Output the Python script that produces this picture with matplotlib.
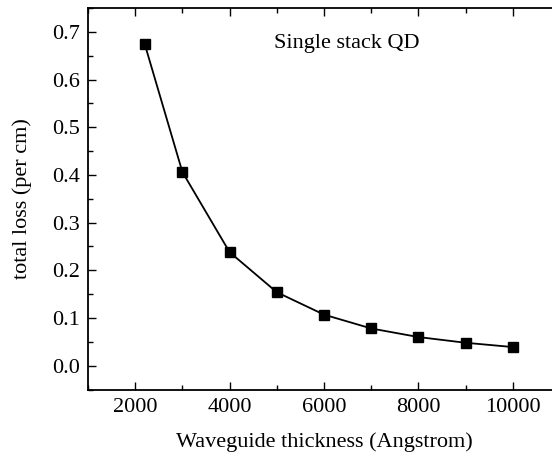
import matplotlib
matplotlib.use("Agg")
import matplotlib.pyplot as plt
from matplotlib.ticker import MultipleLocator

# data
thickness = [2200, 3000, 4000, 5000, 6000, 7000, 8000, 9000, 10000]
total_loss = [0.675, 0.406, 0.238, 0.154, 0.107, 0.078, 0.060, 0.048, 0.039]

plt.rcParams['font.family'] = ['Liberation Serif', 'DejaVu Serif']
plt.rcParams['mathtext.fontset'] = 'stix'

fig = plt.figure(figsize=(5.52, 4.59), dpi=100)
ax = fig.add_axes([88 / 552, (459 - 389.5) / 459, (560 - 88) / 552, (389.5 - 8) / 459])

ax.plot(thickness, total_loss, color='black', linewidth=1.3,
        marker='s', markersize=6.5, markerfacecolor='black')

ax.set_xlim(1000, 11000)
ax.set_ylim(-0.05, 0.75)
ax.xaxis.set_major_locator(MultipleLocator(2000))
ax.xaxis.set_minor_locator(MultipleLocator(1000))
ax.yaxis.set_major_locator(MultipleLocator(0.1))
ax.yaxis.set_minor_locator(MultipleLocator(0.05))
ax.yaxis.set_major_formatter(matplotlib.ticker.FormatStrFormatter('%.1f'))

ax.tick_params(which='both', direction='in', top=True, right=True, labelsize=16, width=1.0)
ax.tick_params(which='major', length=6, pad=6)
ax.tick_params(which='minor', length=3.5)
for side in ax.spines.values():
    side.set_linewidth(1.3)

ax.set_xlabel('Waveguide thickness (Angstrom)', fontsize=16, labelpad=11)
ax.set_ylabel('total loss (per cm)', fontsize=16, labelpad=14)
ax.text(0.394, 0.908, 'Single stack QD', transform=ax.transAxes, fontsize=16, va='center')

fig.savefig('out.png', dpi=100)
